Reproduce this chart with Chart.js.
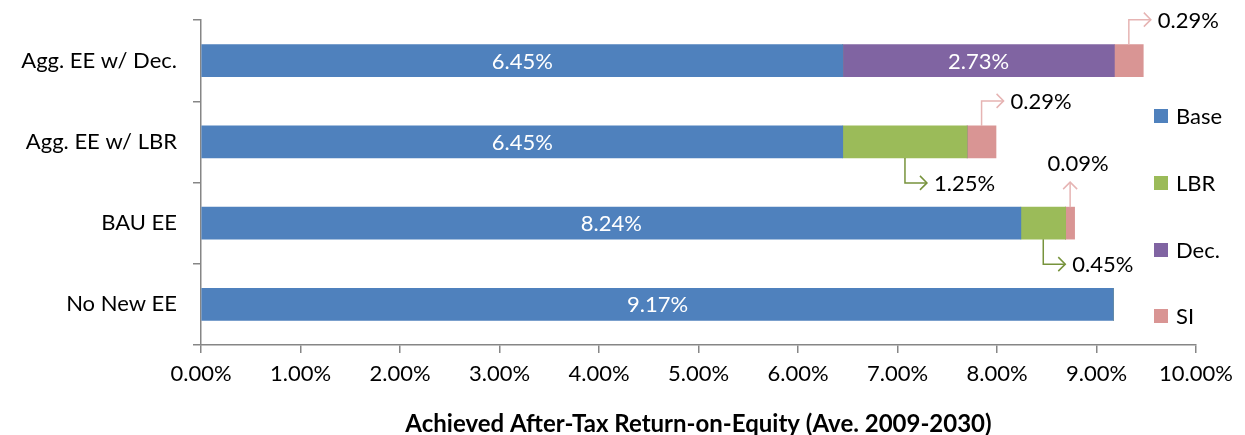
<!DOCTYPE html>
<html>
<head>
<meta charset="utf-8">
<script src="https://cdn.jsdelivr.net/npm/chart.js@4"></script>
<style>
  html, body { margin: 0; padding: 0; background: #fff; }
  #wrap { width: 1245px; height: 435px; }
</style>
</head>
<body>
<div id="wrap"><canvas id="roe-chart" width="1245" height="435"></canvas></div>
<script>
const categories = ['Agg. EE w/ Dec.', 'Agg. EE w/ LBR', 'BAU EE', 'No New EE'];
const seriesNames = ['Base', 'LBR', 'Dec.', 'SI'];
const baseValues = [6.45, 6.45, 8.24, 9.17];
const lbrValues = [0, 1.25, 0.45, 0];
const decValues = [2.73, 0, 0, 0];
const siValues = [0.29, 0.29, 0.09, 0];
const xTickValues = [0, 1, 2, 3, 4, 5, 6, 7, 8, 9, 10];
const axisTitle = 'Achieved After-Tax Return-on-Equity (Ave. 2009-2030)';

const colors = ['#4F81BD', '#9BBB59', '#8064A2', '#D99594'];
const fontFamily = 'Lato, "Open Sans", sans-serif';

// which segments get a callout arrow instead of an inside label
const callouts = [
    { series: 3, row: 0, dir: 'upRight', color: '#E6B4B3' },
    { series: 3, row: 1, dir: 'upRight', color: '#E6B4B3' },
    { series: 1, row: 1, dir: 'downRight', color: '#77933C' },
    { series: 3, row: 2, dir: 'up', color: '#E6B4B3' },
    { series: 1, row: 2, dir: 'downRight', color: '#77933C' }
];
const insideLabelSeries = [0, 2];

const fmt = v => v.toFixed(2) + '%';

const drawArrowHead = (ctx, x, y, dx, dy) => {
    const s = 7;
    ctx.beginPath();
    if (dx) {
        ctx.moveTo(x - s * dx, y - s);
        ctx.lineTo(x, y);
        ctx.lineTo(x - s * dx, y + s);
    } else {
        ctx.moveTo(x - s, y - s * dy);
        ctx.lineTo(x, y);
        ctx.lineTo(x + s, y - s * dy);
    }
    ctx.stroke();
};

const labelPlugin = {
    id: 'labels',
    afterDatasetsDraw(chart) {
        const ctx = chart.ctx;
        ctx.save();
        ctx.font = '22px ' + fontFamily;
        ctx.textBaseline = 'middle';

        insideLabelSeries.forEach(si => {
            const meta = chart.getDatasetMeta(si);
            chart.data.datasets[si].data.forEach((v, i) => {
                if (!v) return;
                const bar = meta.data[i];
                ctx.fillStyle = '#fff';
                ctx.textAlign = 'center';
                ctx.fillText(fmt(v), (bar.x + bar.base) / 2, bar.y + 1);
            });
        });

        callouts.forEach(c => {
            const v = chart.data.datasets[c.series].data[c.row];
            const bar = chart.getDatasetMeta(c.series).data[c.row];
            const cx = (bar.x + bar.base) / 2;
            const top = bar.y - bar.height / 2;
            const bottom = bar.y + bar.height / 2;
            ctx.strokeStyle = c.color;
            ctx.lineWidth = 1.5;
            ctx.fillStyle = '#000';
            if (c.dir === 'up') {
                const y1 = top - 25;
                ctx.beginPath();
                ctx.moveTo(cx, top);
                ctx.lineTo(cx, y1);
                ctx.stroke();
                drawArrowHead(ctx, cx, y1, 0, -1);
                ctx.textAlign = 'center';
                ctx.fillText(fmt(v), cx + 8, y1 - 18);
            } else {
                const y1 = c.dir === 'upRight' ? top - 25 : bottom + 25;
                const x1 = cx + 22;
                ctx.beginPath();
                ctx.moveTo(cx, c.dir === 'upRight' ? top : bottom);
                ctx.lineTo(cx, y1);
                ctx.lineTo(x1, y1);
                ctx.stroke();
                drawArrowHead(ctx, x1, y1, 1, 0);
                ctx.textAlign = 'left';
                ctx.fillText(fmt(v), x1 + 7, y1 + 1);
            }
        });
        ctx.restore();
    },
    afterDraw(chart) {
        // legend on the right, spread vertically like the original
        const ctx = chart.ctx;
        ctx.save();
        ctx.font = '22px ' + fontFamily;
        ctx.textBaseline = 'middle';
        ctx.textAlign = 'left';
        const ys = [116, 183, 250, 316];
        chart.data.datasets.forEach((ds, i) => {
            ctx.fillStyle = ds.backgroundColor;
            ctx.fillRect(1154, ys[i] - 7, 14, 14);
            ctx.fillStyle = '#000';
            ctx.fillText(ds.label, 1176, ys[i] + 1);
        });
        ctx.restore();
    }
};

const ctx = document.getElementById('roe-chart').getContext('2d');
const seriesData = [baseValues, lbrValues, decValues, siValues];

new Chart(ctx, {
    type: 'bar',
    data: {
        labels: categories,
        datasets: seriesNames.map((name, i) => ({
            label: name,
            data: seriesData[i],
            backgroundColor: colors[i],
            borderWidth: 0,
            barThickness: 32
        }))
    },
    options: {
        indexAxis: 'y',
        responsive: false,
        animation: false,
        layout: { padding: { left: 0, right: 49, top: 20, bottom: 0 } },
        plugins: {
            legend: { display: false },
            tooltip: { enabled: false }
        },
        scales: {
            x: {
                stacked: true,
                min: 0,
                max: 10,
                afterBuildTicks: scale => {
                    scale.ticks = xTickValues.map(v => ({ value: v }));
                },
                afterFit: scale => { scale.height = 90; },
                border: { color: '#868686', width: 1.5 },
                grid: { drawOnChartArea: false, drawTicks: true, tickLength: 8, color: '#868686', lineWidth: 1.5 },
                ticks: {
                    color: '#000',
                    font: { family: fontFamily, size: 22 },
                    padding: 8,
                    maxRotation: 0,
                    callback: v => fmt(v)
                },
                title: {
                    display: true,
                    text: axisTitle,
                    color: '#000',
                    font: { family: fontFamily, size: 24, weight: 'bold', lineHeight: 0.91 },
                    padding: { top: 4, bottom: 0 }
                }
            },
            y: {
                stacked: true,
                afterFit: scale => {
                    scale.width = 201;
                    scale.paddingTop = 0;
                    scale.paddingBottom = 0;
                },
                border: { color: '#868686', width: 1.5 },
                grid: { drawOnChartArea: false, drawTicks: true, tickLength: 8, color: '#868686', lineWidth: 1.5 },
                ticks: {
                    color: '#000',
                    font: { family: fontFamily, size: 22 },
                    padding: 16
                }
            }
        }
    },
    plugins: [labelPlugin]
});
</script>
</body>
</html>
